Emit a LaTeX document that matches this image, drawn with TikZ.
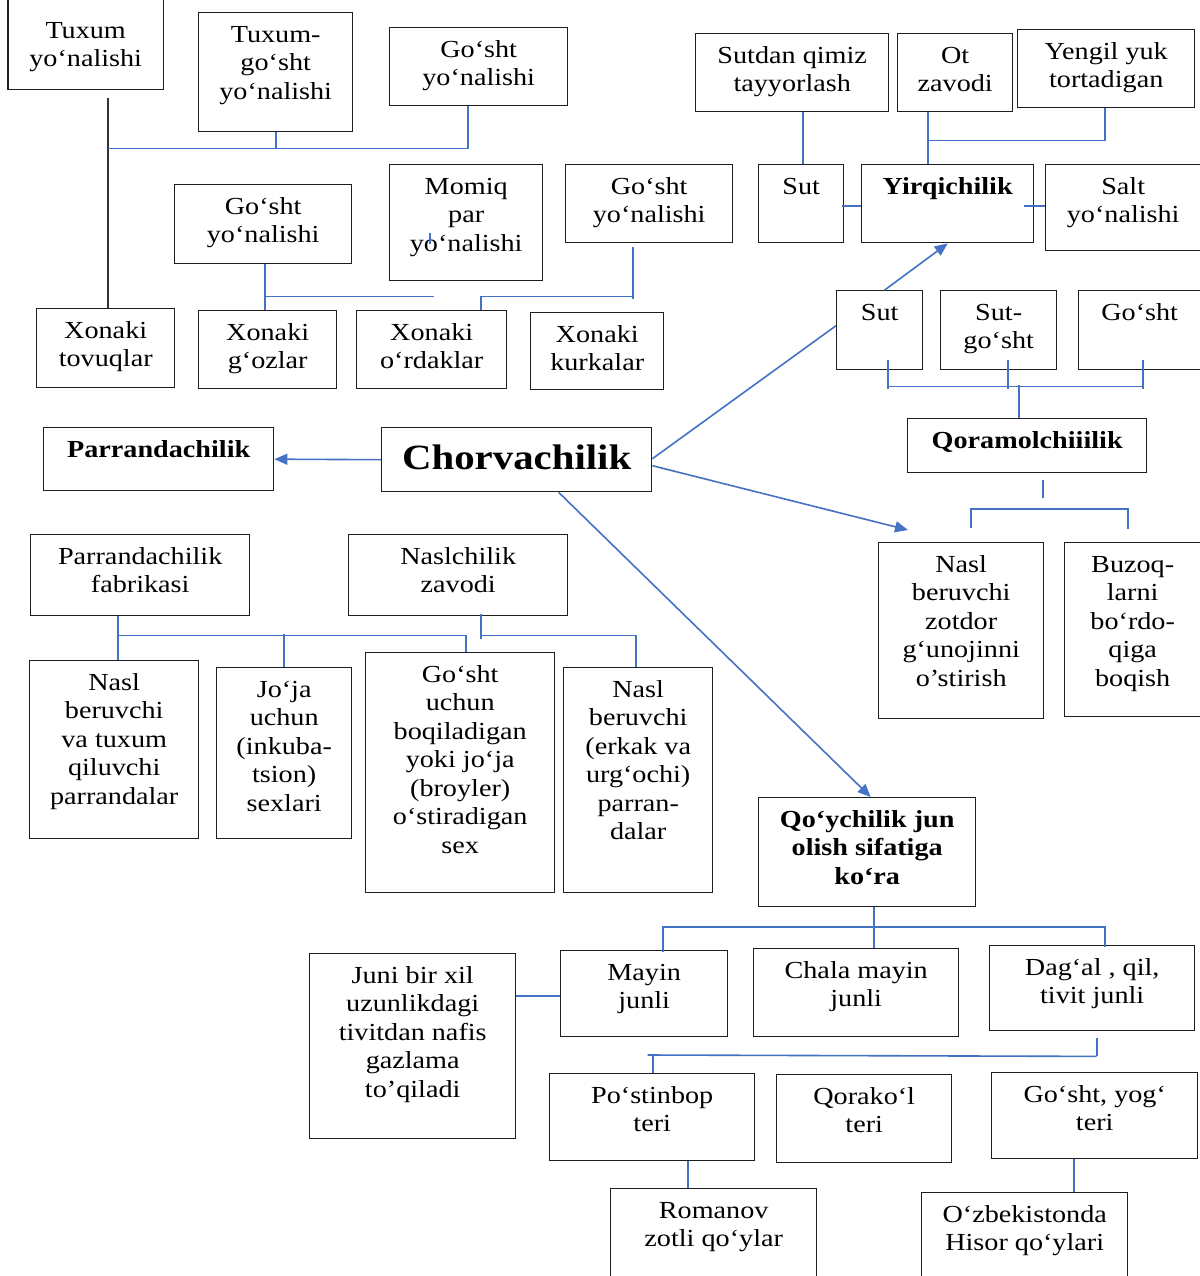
\documentclass[tikz,border=0pt]{standalone}
\usepackage{fontspec}
\setmainfont{Liberation Serif}[FakeStretch=1.15]
\usetikzlibrary{calc,arrows.meta}
\definecolor{bluec}{HTML}{4472C4}
\definecolor{boxc}{HTML}{1E1E1E}
\definecolor{darkc}{HTML}{333333}
\tikzset{
  boxst/.style={draw=boxc, line width=1.4pt, inner sep=0pt, anchor=north west, fill=none},
  opentop/.style={draw=none},
  txt/.style={align=center, inner sep=0pt, anchor=north, yshift=-10pt,
    font=\fontsize{24.5}{28.5}\selectfont},
  bt/.style={font=\bfseries\fontsize{24.5}{28.5}\selectfont},
  big/.style={font=\bfseries\fontsize{35.5}{40}\selectfont, yshift=-4pt},
  bl/.style={draw=bluec, line width=1.6pt},
  dk/.style={draw=darkc, line width=1.6pt},
  arr/.style={-{Triangle[length=13pt,width=11pt]}}
}
\newcommand\mkbox[8][]{%
  \node[boxst,#8, minimum width={(#5-#3)*1pt}, minimum height={(#6-#4)*1pt}] (#2) at (#3,#4) {};
  \node[txt,#1] (#2-t) at (#2.north) {\strut #7};
}
\begin{document}
\begin{tikzpicture}[x=1pt,y=-1pt]
\useasboundingbox (0,0) rectangle (1199,1276);
\fill[white] (0,0) rectangle (1199,1276);
% top-left group
\mkbox{A1}{8}{8}{162}{88}{Tuxum\\yo‘nalishi}{opentop}
\draw[boxc, line width=1.4pt] ($(A1.north west)+(0,-20)$) -- (A1.south west) -- (A1.south east) -- ($(A1.north east)+(0,-20)$);
\mkbox{A2}{198}{12}{352}{131}{Tuxum-\\go‘sht\\yo‘nalishi}{}
\mkbox{A3}{389}{27}{567}{105}{Go‘sht\\yo‘nalishi}{}
\mkbox{B1}{174}{184}{351}{263}{Go‘sht\\yo‘nalishi}{}
\mkbox{B2}{389}{164}{542}{280}{Momiq\\par\\yo‘nalishi}{}
\mkbox{B3}{565}{164}{732}{242}{Go‘sht\\yo‘nalishi}{}
\mkbox{C1}{36}{308}{174}{387}{Xonaki\\tovuqlar}{}
\mkbox{C2}{198}{310}{336}{388}{Xonaki\\g‘ozlar}{}
\mkbox{C3}{356}{310}{506}{388}{Xonaki\\o‘rdaklar}{}
\mkbox{C4}{530}{312}{663}{389}{Xonaki\\kurkalar}{}
% top-right group
\mkbox{D1}{695}{33}{888}{111}{Sutdan qimiz\\tayyorlash}{}
\mkbox{D2}{897}{33}{1012}{111}{Ot\\zavodi}{}
\mkbox{D3}{1017}{29}{1194}{107}{Yengil yuk\\tortadigan}{}
\mkbox{D4}{758}{164}{843}{242}{Sut}{}
\mkbox[bt]{D5}{861}{164}{1033}{242}{Yirqichilik}{}
\mkbox{D6}{1045}{164}{1200}{250}{Salt\\yo‘nalishi}{}
\mkbox{E1}{836}{290}{922}{369}{Sut}{}
\mkbox{E2}{940}{290}{1056}{369}{Sut-\\go‘sht}{}
\mkbox{E3}{1078}{290}{1200}{369}{Go‘sht}{}
\mkbox[bt]{F}{907}{418}{1146}{472}{Qoramolchiiilik}{}
\mkbox{G1}{878}{542}{1043}{718}{Nasl\\beruvchi\\zotdor\\g‘unojinni\\o’stirish}{}
\mkbox{G2}{1064}{542}{1200}{716}{Buzoq-\\larni\\bo‘rdo-\\qiga\\boqish}{}
% centre
\mkbox[big]{Chor}{381}{427}{651}{491}{Chorvachilik}{}
\mkbox[bt]{P}{43}{427}{273}{490}{Parrandachilik}{}
% lower-left group
\mkbox{H1}{30}{534}{249}{615}{Parrandachilik\\fabrikasi}{}
\mkbox{H2}{348}{534}{567}{615}{Naslchilik\\zavodi}{}
\mkbox{I1}{29}{660}{198}{838}{Nasl\\beruvchi\\va tuxum\\qiluvchi\\parrandalar}{}
\mkbox{I2}{216}{667}{351}{838}{Jo‘ja\\uchun\\(inkuba-\\tsion)\\sexlari}{}
\mkbox{I3}{365}{652}{554}{892}{Go‘sht\\uchun\\boqiladigan\\yoki jo‘ja\\(broyler)\\o‘stiradigan\\sex}{}
\mkbox{I4}{563}{667}{712}{892}{Nasl\\beruvchi\\(erkak va\\urg‘ochi)\\parran-\\dalar}{}
% lower-right group
\mkbox[bt]{J}{758}{797}{975}{906}{Qo‘ychilik jun\\olish sifatiga\\ko‘ra}{}
\mkbox{K1}{560}{950}{727}{1036}{Mayin\\junli}{}
\mkbox{K2}{753}{948}{958}{1036}{Chala mayin\\junli}{}
\mkbox{K3}{989}{945}{1194}{1030}{Dag‘al , qil,\\tivit junli}{}
\mkbox{L}{309}{953}{515}{1138}{Juni bir xil\\uzunlikdagi\\tivitdan nafis\\gazlama\\to’qiladi}{}
\mkbox{M1}{549}{1073}{754}{1160}{Po‘stinbop\\teri}{}
\mkbox{M2}{776}{1074}{951}{1162}{Qorako‘l\\teri}{}
\mkbox{M3}{991}{1072}{1197}{1158}{Go‘sht, yog‘\\teri}{}
\mkbox{N1}{610}{1188}{816}{1295}{Romanov\\zotli qo‘ylar}{}
\mkbox{N2}{921}{1192}{1127}{1295}{O‘zbekistonda\\Hisor qo‘ylari}{}

% ---- connectors: top-left
\draw[dk] ($(A1.south)+(22,9)$) -- ($(C1.north)+(2,0)$);
\coordinate (jA) at ($(A1.south)+(22,59)$);
\draw[bl] (jA) -| ($(A3.south)+(-11,0)$);
\draw[bl] (A2.south) -- (A2.south |- jA);
\draw[bl] ($(B1.south)+(1.5,0)$) -- ($(C2.north)+(-3,0)$);
\draw[bl] ($(B1.south)+(1.5,32)$) -- ++(169,0);
\draw[bl] ($(B3.south)+(-16.5,4)$) -- ($(B3.south)+(-16.5,56)$);
\draw[bl] ($(B3.south)+(-16.5,53)$) -| ($(C3.north)+(49,0)$);
\draw[bl] ($(B2.south)+(-36.5,-48)$) -- ++(0,11);
% ---- connectors: top-right
\draw[bl] ($(D4.north |- D1.south)+(2,0)$) -- ($(D4.north)+(2,0)$);
\coordinate (d2a) at ($(D2.south)+(-27,0)$);
\draw[bl] (d2a) -- (d2a |- D5.north);
\draw[bl] ($(d2a)+(0,28)$) -| ($(D3.south)+(-1.5,0)$);
\draw[bl] ($(D4.east)+(-2,2)$) -- ($(D5.west)+(0,2)$);
\draw[bl] ($(D5.east)+(-10,2)$) -- ($(D6.west |- D5.east)+(0,2)$);
\draw[bl,arr] ($(E1.north)+(5,0)$) -- (D5.south);
\draw[bl] ($(E1.south)+(8,-10)$) -- ++(0,29);
\draw[bl] ($(E2.south)+(9,-10)$) -- ++(0,29);
\draw[bl] ($(E3.south)+(3.5,-10)$) -- ++(0,29);
\draw[bl] ($(E1.south)+(8,16)$) -- ($(E3.south)+(3.5,16)$);
\draw[bl] ($(F.north)+(-8.5,-33)$) -- ($(F.north)+(-8.5,0)$);
\draw[bl] ($(F.south)+(15.5,7)$) -- ++(0,18);
\draw[bl] ($(G1.north)+(9.5,-14)$) |- ($(G2.north)+(-4.5,-33)$) -- ($(G2.north)+(-4.5,-13)$);
% ---- from Chorvachilik
\coordinate (tipG) at ($(G1.north west)+(30,-12)$);
\draw[bl,arr] (Chor.west) -- (P.east);
\draw[bl] ($(Chor.east)+(0,-1)$) -- ($(E1.west)+(0,-4.5)$);
\draw[bl,arr] ($(Chor.east)+(0,6)$) -- (tipG);
\draw[bl,arr] ($(Chor.south)+(42,0)$) -- ($(J.north)+(3.5,0)$);
% ---- lower-left
\draw[bl] ($(H1.south)+(-22.5,0)$) -- ($(I1.north)+(3.5,0)$);
\draw[bl] ($(H1.south)+(-22.5,19)$) -| ($(I3.north)+(5.5,0)$);
\draw[bl] ($(I2.north)+(0,-33)$) -- (I2.north);
\draw[bl] ($(H2.south)+(22.5,-2)$) -- ++(0,25);
\draw[bl] ($(H2.south)+(22.5,19)$) -| ($(I4.north)+(-2.5,0)$);
% ---- lower-right
\draw[bl] ($(J.south)+(6.5,0)$) -- ($(K2.north)+(17.5,0)$);
\draw[bl] ($(K1.north)+(18.5,2)$) |- ($(K3.north)+(12.5,-18)$) -- ($(K3.north)+(12.5,2)$);
\draw[bl] ($(K1.west)+(0,2)$) -- ($(K1.west -| L.east)+(0,2)$);
\draw[bl] ($(K3.south)+(4.5,7)$) -- ++(0,18);
\draw[bl] ($(K3.south)+(4.5,25)$) -- ($(M1.north)+(-4.5,-18)$);
\draw[bl] ($(M1.north)+(0.5,-18)$) -- ($(M1.north)+(0.5,0)$);
\draw[bl] ($(M1.south)+(35.5,0)$) -- ($(N1.north)+(-26,0)$);
\draw[bl] ($(M3.south)+(-21,0)$) -- ($(N2.north)+(49,0)$);
\end{tikzpicture}
\end{document}
